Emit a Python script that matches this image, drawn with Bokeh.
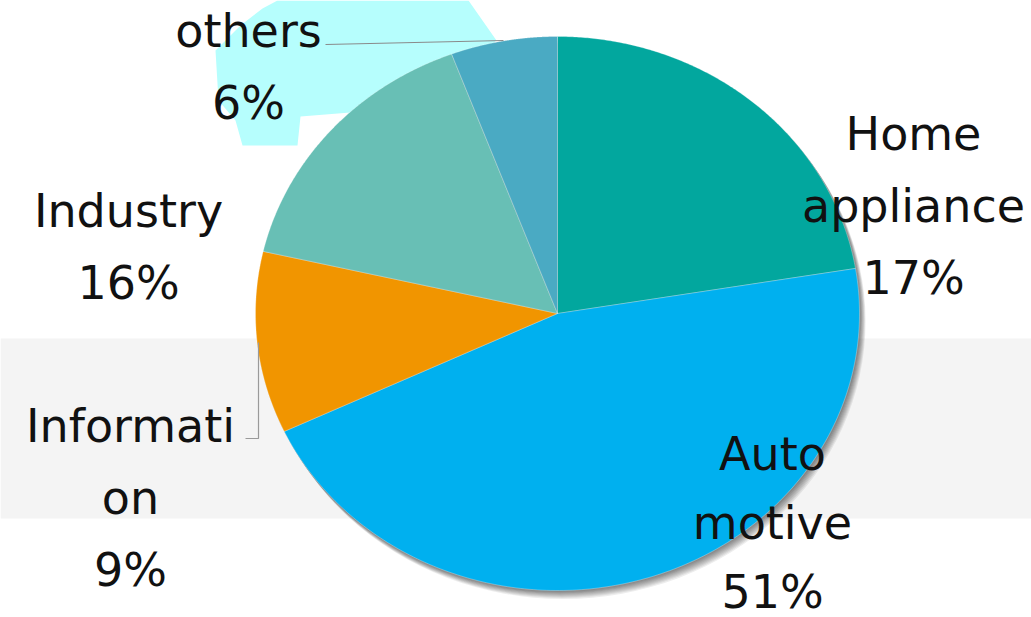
import numpy as np
from bokeh.plotting import figure
from bokeh.models import Range1d, ColumnDataSource
from bokeh.embed import file_html
from bokeh.resources import INLINE
from bokeh.core.properties import value

# ---- data ----
categories = ["Home appliance", "Automotive", "Information", "Industry", "others"]
shares = [22.4, 45.6, 10.6, 15.7, 5.7]          # slice sizes as drawn
pct_labels = ["17%", "51%", "9%", "16%", "6%"]   # printed labels
name_lines = [["Home", "appliance"], ["Auto", "motive"], ["Informati", "on"], ["Industry"], ["others"]]
colors = ["#02a79e", "#00b0ef", "#f19500", "#68bfb5", "#4aaac3"]

# ---- layout (pixels) ----
W, H = 1031, 617
cx, cy, rx, ry = 557, 313, 302, 277
label_pos = [(913, 133), (772, 453), (130, 425), (128, 210), (248, 30)]
line_steps = [72, 69, 72, 72, 72]

p = figure(width=W, height=H, x_range=Range1d(0, W), y_range=Range1d(H, 0),
           output_backend="svg", toolbar_location=None, min_border=0)
p.axis.visible = False
p.grid.visible = False
p.outline_line_color = None
p.background_fill_color = "white"
p.border_fill_color = "white"

# background band
p.quad(left=[0], right=[W], top=[338], bottom=[518], fill_color="#f4f4f4", line_color=None)

# cyan blob behind the "others" label
blob_x = [277, 468, 496, 470, 350, 300, 297, 242, 235, 218, 215, 240, 262]
blob_y = [0, 0, 40, 60, 112, 116, 145, 145, 120, 100, 50, 25, 8]
p.patch(blob_x, blob_y, fill_color="#b6fefd", line_color=None)

# soft shadow
for i in range(8):
    off = 1 + i
    p.ellipse(x=[cx + off * 0.7], y=[cy + off], width=[2 * rx + 1], height=[2 * ry + 1],
              fill_color="#000000", fill_alpha=0.07, line_color=None)

# slices (clockwise from 12 o'clock)
total = sum(shares)
start = np.pi / 2
xs, ys = [], []
for s in shares:
    sweep = 2 * np.pi * s / total
    t = np.linspace(start, start - sweep, 200)
    xs.append([cx] + list(cx + rx * np.cos(t)))
    ys.append([cy] + list(cy - ry * np.sin(t)))
    start -= sweep
src = ColumnDataSource(dict(xs=xs, ys=ys, color=colors, name=categories))
p.patches("xs", "ys", source=src, fill_color="color", line_color="white", line_width=0.4, line_alpha=0.7)

# leader lines
p.line([325, 503], [44, 40], line_color="#8a8a8a", line_width=1.2)
p.line([245, 258, 258], [438, 438, 342], line_color="#9a9a9a", line_width=1.2)

# labels
tx, ty, tt = [], [], []
for (x0, y0), step, lines, pct in zip(label_pos, line_steps, name_lines, pct_labels):
    for k, txt in enumerate(lines + [pct]):
        tx.append(x0)
        ty.append(y0 + k * step)
        tt.append(txt)
p.text(x=tx, y=ty, text=tt, text_align="center", text_baseline="middle",
       text_font=value("DejaVu Sans"), text_font_size="46px", text_color="#111111")

open("out.html", "w").write(file_html(p, INLINE))
